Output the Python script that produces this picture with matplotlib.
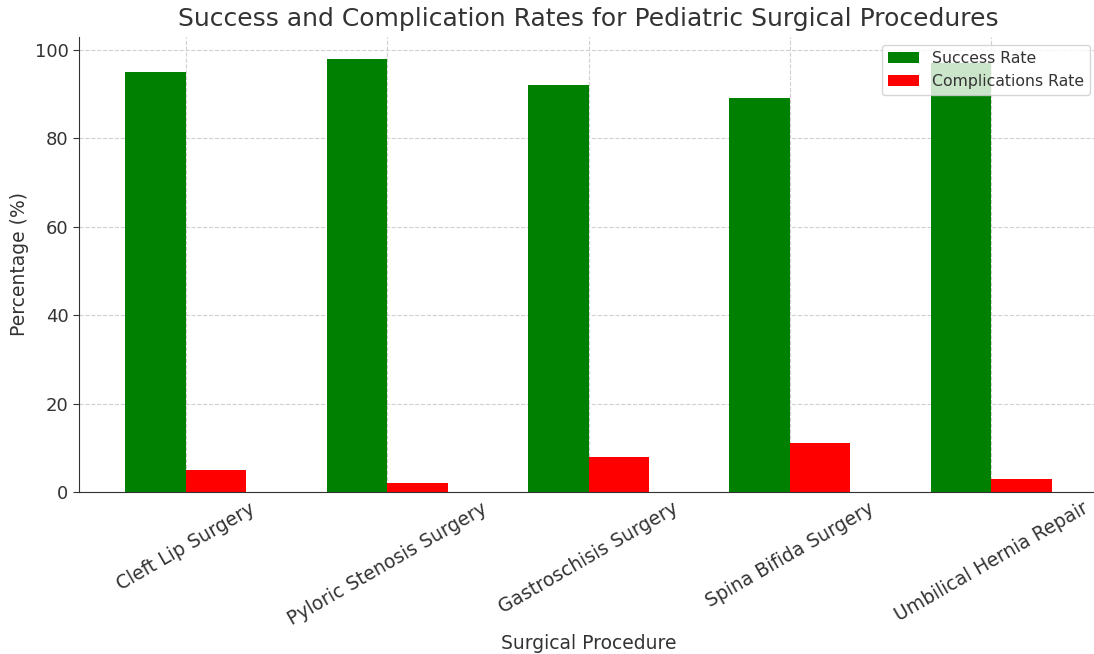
import matplotlib
matplotlib.use("Agg")
import matplotlib.pyplot as plt
import numpy as np

procedures = ["Cleft Lip Surgery", "Pyloric Stenosis Surgery", "Gastroschisis Surgery",
              "Spina Bifida Surgery", "Umbilical Hernia Repair"]
success_rate = [95, 98, 92, 89, 97]
complication_rate = [5, 2, 8, 11, 3]

plt.rcParams['font.family'] = ['DejaVu Sans']
text_color = '#333333'

fig = plt.figure(figsize=(10.94, 6.54), dpi=100)
ax = fig.add_axes([79/1094, (654-492)/654, 1019/1094, (492-37)/654])

x = np.arange(len(procedures))
w = 0.3
ax.bar(x - w/2, success_rate, w, color='green', label='Success Rate', zorder=2)
ax.bar(x + w/2, complication_rate, w, color='red', label='Complications Rate', zorder=2)

ax.set_xticks(x)
ax.set_xticklabels(procedures, rotation=30, fontsize=13.5, color=text_color)
ax.tick_params(axis='x', length=0, pad=5)
ax.tick_params(axis='y', labelsize=13, colors=text_color, length=4)
ax.set_ylabel('Percentage (%)', fontsize=13.5, color=text_color)
ax.set_xlabel('Surgical Procedure', fontsize=13.5, color=text_color)
ax.set_title('Success and Complication Rates for Pediatric Surgical Procedures',
             fontsize=18, color=text_color, pad=8)
ax.grid(True, linestyle='--', color='#d0d0d0', linewidth=0.8, zorder=0)
ax.set_axisbelow(True)
for s in ['top', 'right']:
    ax.spines[s].set_visible(False)
for s in ['left', 'bottom']:
    ax.spines[s].set_color(text_color)
ax.legend(fontsize=11.3, labelcolor=text_color, loc='upper right',
          bbox_to_anchor=(1.0, 1.0))

fig.savefig('out.png', dpi=100)
